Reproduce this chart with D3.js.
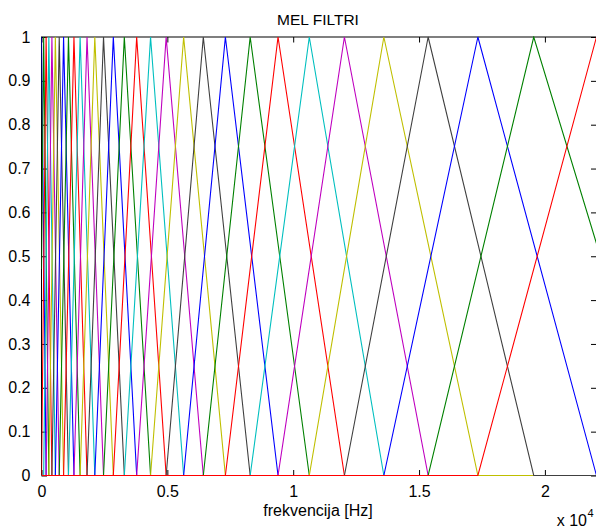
<!DOCTYPE html>
<html><head><meta charset="utf-8">
<script src="https://cdn.jsdelivr.net/npm/d3@7"></script>
<style>
body{margin:0;background:#fff}
svg{display:block}
text{font-family:Arial,"Liberation Sans",Helvetica,sans-serif;fill:#000}
</style>
</head><body>
<svg id="c" width="596" height="528"></svg>
<script>
// ---- data ----
const chartTitle = "MEL FILTRI";
const xLabel = "frekvencija [Hz]";
const xDomain = [0, 22050];
const yDomain = [0, 1];
// mel-spaced filter points in Hz (first two and last two lie outside the axis)
const melPointsHz = [-145.0, -76.7, 0, 86.1, 182.9, 291.5, 413.5, 550.5, 704.3, 877.1,
  1071.2, 1289.1, 1533.8, 1808.7, 2117.4, 2464.0, 2853.3, 3290.5, 3781.5, 4332.9,
  4952.2, 5647.6, 6428.6, 7305.8, 8290.8, 9397.0, 10639.4, 12034.6, 13601.5, 15361.1,
  17337.3, 19556.6, 22049.0, 24848.0, 27992.0];
const xTickValues = [0, 5000, 10000, 15000, 20000];
const xTickLabels = ["0", "0.5", "1", "1.5", "2"];
const yTickValues = [0, 0.1, 0.2, 0.3, 0.4, 0.5, 0.6, 0.7, 0.8, 0.9, 1];
const yTickLabels = ["0", "0.1", "0.2", "0.3", "0.4", "0.5", "0.6", "0.7", "0.8", "0.9", "1"];
const lineColors = ["#0000ff", "#008000", "#ff0000", "#00bfbf", "#bf00bf", "#bfbf00", "#404040"];

// filters: each one rises from point k to point k+2 and falls to point k+4
const filters = d3.range(melPointsHz.length - 4).map(k => ({
  left: melPointsHz[k], peak: melPointsHz[k + 2], right: melPointsHz[k + 4]
}));

// ---- layout ----
const L = 41.5, R = 596.5, T = 37, B = 475.5, tick = 5.5;
const svg = d3.select("#c");
const x = d3.scaleLinear().domain(xDomain).range([L, R]);
const y = d3.scaleLinear().domain(yDomain).range([B, T]);

svg.append("rect").attr("width", 596).attr("height", 528).attr("fill", "#fff");

// axes box
const g = svg.append("g");
g.append("rect").attr("x", L).attr("y", T).attr("width", R - L).attr("height", B - T)
  .attr("fill", "none").attr("stroke", "#000").attr("stroke-width", 1);

const axB = d3.axisBottom(x).tickValues(xTickValues).tickFormat((d, i) => xTickLabels[i]).tickSizeInner(-tick).tickSizeOuter(0).tickPadding(10);
const axT = d3.axisTop(x).tickValues(xTickValues).tickFormat("").tickSizeInner(-tick).tickSizeOuter(0);
const axL = d3.axisLeft(y).tickValues(yTickValues).tickFormat((d, i) => yTickLabels[i]).tickSizeInner(-tick).tickSizeOuter(0).tickPadding(11);
const axR = d3.axisRight(y).tickValues(yTickValues).tickFormat("").tickSizeInner(-tick).tickSizeOuter(0);

function styleAxis(sel) {
  sel.select(".domain").remove();
  sel.selectAll("line").attr("stroke", "#000");
  sel.selectAll("text").attr("font-size", 16).attr("fill", "#000")
    .style("font-family", "Arial, 'Liberation Sans', sans-serif");
}
g.append("g").attr("transform", `translate(0,${B})`).call(axB).call(styleAxis);
g.append("g").attr("transform", `translate(0,${T})`).call(axT).call(styleAxis);
g.append("g").attr("transform", `translate(${L},0)`).call(axL).call(styleAxis);
g.append("g").attr("transform", `translate(${R},0)`).call(axR).call(styleAxis);

// lines
svg.append("clipPath").attr("id", "clip").append("rect")
  .attr("x", L).attr("y", T - 1).attr("width", R - L).attr("height", B - T + 2);

function val(f, d) {
  if (f <= d.left || f >= d.right) return 0;
  return f <= d.peak ? (f - d.left) / (d.peak - d.left) : (d.right - f) / (d.right - d.peak);
}
const line = d3.line().x(p => x(p[0])).y(p => y(p[1]));
svg.append("g").attr("clip-path", "url(#clip)")
  .selectAll("path").data(filters).join("path")
  .attr("fill", "none")
  .attr("stroke", (d, i) => lineColors[i % lineColors.length])
  .attr("stroke-width", 1.1)
  .attr("d", d => {
    const fs = [xDomain[0], d.left, d.peak, d.right, xDomain[1]]
      .filter(f => f >= xDomain[0] && f <= xDomain[1]).sort((a, b) => a - b);
    return line(fs.map(f => [f, val(f, d)]));
  });

// texts
svg.append("text").attr("x", (L + R) / 2 - 1).attr("y", 25).attr("text-anchor", "middle")
  .attr("font-size", 15.5).text(chartTitle);
svg.append("text").attr("x", (L + R) / 2 - 1).attr("y", 516).attr("text-anchor", "middle")
  .attr("font-size", 16).text(xLabel);
svg.append("text").attr("x", 587).attr("y", 526).attr("text-anchor", "end").attr("font-size", 16).text("x 10");
svg.append("text").attr("x", 587.5).attr("y", 517).attr("font-size", 11).text("4");
</script>
</body></html>
